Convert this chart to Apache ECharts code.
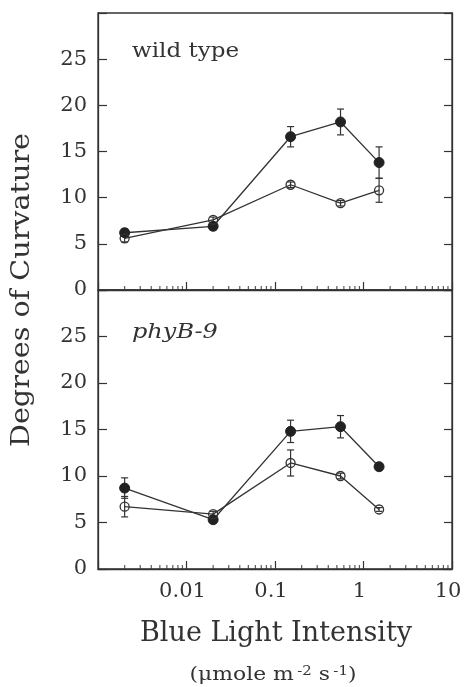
<!DOCTYPE html>
<html>
<head>
<meta charset="utf-8">
<script src="https://cdn.jsdelivr.net/npm/echarts@6/dist/echarts.min.js"></script>
<style>
html,body{margin:0;padding:0;background:#fff;}
#chart{width:466px;height:687px;}
</style>
</head>
<body>
<div id="chart"></div>
<script>
// ---- data ----
var xValues = [0.002, 0.02, 0.15, 0.55, 1.5];

var wtFilled = [6.2, 6.9, 16.6, 18.2, 13.8];
var wtFilledErr = [0.4, 0.4, 1.1, 1.4, 1.7];
var wtOpen = [5.6, 7.6, 11.4, 9.4, 10.8];
var wtOpenErr = [0.4, 0.3, 0.3, 0.3, 1.3];

var phyFilled = [8.7, 5.3, 14.8, 15.3, 11.0];
var phyFilledErr = [1.1, 0.3, 1.2, 1.2, 0.2];
var phyOpen = [6.7, 5.9, 11.4, 10.0, 6.4];
var phyOpenErr = [1.1, 0.3, 1.4, 0.3, 0.2];

var yTicks = [0, 5, 10, 15, 20, 25];
var xTickLabels = { '-2': '0.01', '-1': '0.1', '0': '1', '1': '10' };
var minorTickValues = [];
[0.001, 0.01, 0.1, 1].forEach(function (d) {
  for (var k = 2; k <= 9; k++) minorTickValues.push(+(k * d).toPrecision(3));
});

var panelLabels = ['wild type', 'phyB-9'];
var yTitle = 'Degrees of Curvature';
var xTitle = 'Blue Light Intensity';
var xUnit = '(μmole m{sup|-2} s{sup|-1})';

// ---- chart ----
var ink = '#333';
var serif = 'DejaVu Serif';

function pairs(vals) { return xValues.map(function (x, i) { return [x, vals[i]]; }); }
function errData(vals, errs) { return xValues.map(function (x, i) { return [x, vals[i] - errs[i], vals[i] + errs[i]]; }); }

function errorSeries(idx, vals, errs) {
  return {
    type: 'custom', xAxisIndex: idx, yAxisIndex: idx * 2, silent: true, z: 1,
    data: errData(vals, errs),
    renderItem: function (params, api) {
      var lo = api.coord([api.value(0), api.value(1)]);
      var hi = api.coord([api.value(0), api.value(2)]);
      var c = 3.5;
      var st = { stroke: ink, lineWidth: 1.2 };
      return {
        type: 'group', children: [
          { type: 'line', shape: { x1: lo[0], y1: lo[1], x2: hi[0], y2: hi[1] }, style: st },
          { type: 'line', shape: { x1: lo[0] - c, y1: lo[1], x2: lo[0] + c, y2: lo[1] }, style: st },
          { type: 'line', shape: { x1: hi[0] - c, y1: hi[1], x2: hi[0] + c, y2: hi[1] }, style: st }
        ]
      };
    }
  };
}
function lineSeries(idx, vals, filled) {
  return {
    type: 'line', xAxisIndex: idx, yAxisIndex: idx * 2, silent: true, z: 3,
    data: pairs(vals),
    symbol: 'circle', symbolSize: filled ? 10 : 9,
    lineStyle: { color: ink, width: 1.3 },
    itemStyle: filled ? { color: '#222', borderColor: '#222', borderWidth: 1 }
                      : { color: 'rgba(255,255,255,0)', borderColor: ink, borderWidth: 1.3 }
  };
}
function minorTickSeries(idx) {
  return {
    type: 'scatter', xAxisIndex: idx, yAxisIndex: idx * 2, silent: true, clip: false, z: 4,
    data: minorTickValues.map(function (v) { return [v, 0]; }),
    symbol: 'rect', symbolSize: [1.2, 4], symbolOffset: [0, -2],
    itemStyle: { color: ink }
  };
}

var grids = [
  { left: 98, right: 14, top: 13, height: 277, show: true, borderColor: ink, borderWidth: 1.3, backgroundColor: 'transparent' },
  { left: 98, right: 14, top: 290, height: 279, show: true, borderColor: ink, borderWidth: 1.3, backgroundColor: 'transparent' }
];

function xAxis(idx, showLabels) {
  return {
    type: 'log', gridIndex: idx, min: 0.001, max: 10, logBase: 10,
    axisLine: { show: true, lineStyle: { color: ink, width: 1.3 } },
    axisTick: { show: true, inside: true, length: 8, lineStyle: { color: ink, width: 1.2 } },
    splitLine: { show: false },
    axisLabel: {
      show: showLabels, margin: 12, color: ink, fontFamily: serif, fontSize: 21,
      padding: [0, 8, 0, 0],
      formatter: function (v) { var e = Math.round(Math.log10(v)); return xTickLabels[String(e)] || ''; }
    }
  };
}
function yAxis(idx, pos) {
  return {
    type: 'value', gridIndex: idx, position: pos, min: 0, max: 30, interval: 5,
    axisLine: { show: true, lineStyle: { color: ink, width: 1.3 } },
    axisTick: { show: true, inside: true, length: pos === 'left' ? 9 : 8, lineStyle: { color: ink, width: 1.2 } },
    splitLine: { show: false },
    axisLabel: {
      show: pos === 'left', margin: 11, color: ink, fontFamily: serif, fontSize: 21,
      formatter: function (v) { return yTicks.indexOf(v) >= 0 ? String(v) : ''; }
    }
  };
}

var option = {
  animation: false,
  backgroundColor: '#fff',
  grid: grids,
  xAxis: [xAxis(0, false), xAxis(1, true)],
  yAxis: [yAxis(0, 'left'), yAxis(0, 'right'), yAxis(1, 'left'), yAxis(1, 'right')],
  series: [
    errorSeries(0, wtFilled, wtFilledErr),
    errorSeries(0, wtOpen, wtOpenErr),
    lineSeries(0, wtFilled, true),
    lineSeries(0, wtOpen, false),
    minorTickSeries(0),
    errorSeries(1, phyFilled, phyFilledErr),
    errorSeries(1, phyOpen, phyOpenErr),
    lineSeries(1, phyFilled, true),
    lineSeries(1, phyOpen, false),
    minorTickSeries(1)
  ],
  graphic: [
    { type: 'text', x: 132, y: 52, scaleX: 1.15,
      style: { text: panelLabels[0], fontFamily: serif, fontSize: 20, fill: ink, align: 'left', verticalAlign: 'middle' } },
    { type: 'text', x: 132, y: 333, scaleX: 1.2,
      style: { text: panelLabels[1], fontFamily: serif, fontStyle: 'italic', fontSize: 20, fill: ink, align: 'left', verticalAlign: 'middle' } },
    { type: 'text', x: 22, y: 290, rotation: Math.PI / 2, scaleX: 1.1,
      style: { text: yTitle, fontFamily: serif, fontSize: 26, fill: ink, align: 'center', verticalAlign: 'middle' } },
    { type: 'text', x: 276, y: 634,
      style: { text: xTitle, fontFamily: serif, fontSize: 27, fill: ink, align: 'center', verticalAlign: 'middle' } },
    { type: 'text', x: 273, y: 675, scaleX: 1.15,
      style: { text: xUnit, fontFamily: serif, fontSize: 19, fill: ink, align: 'center', verticalAlign: 'middle',
        rich: { sup: { fontFamily: serif, fontSize: 13, fill: ink, verticalAlign: 'top', padding: [0, 0, 7, 3] } } } }
  ]
};

var chart = echarts.init(document.getElementById('chart'), null, { renderer: 'canvas' });
chart.setOption(option);
</script>
</body>
</html>
